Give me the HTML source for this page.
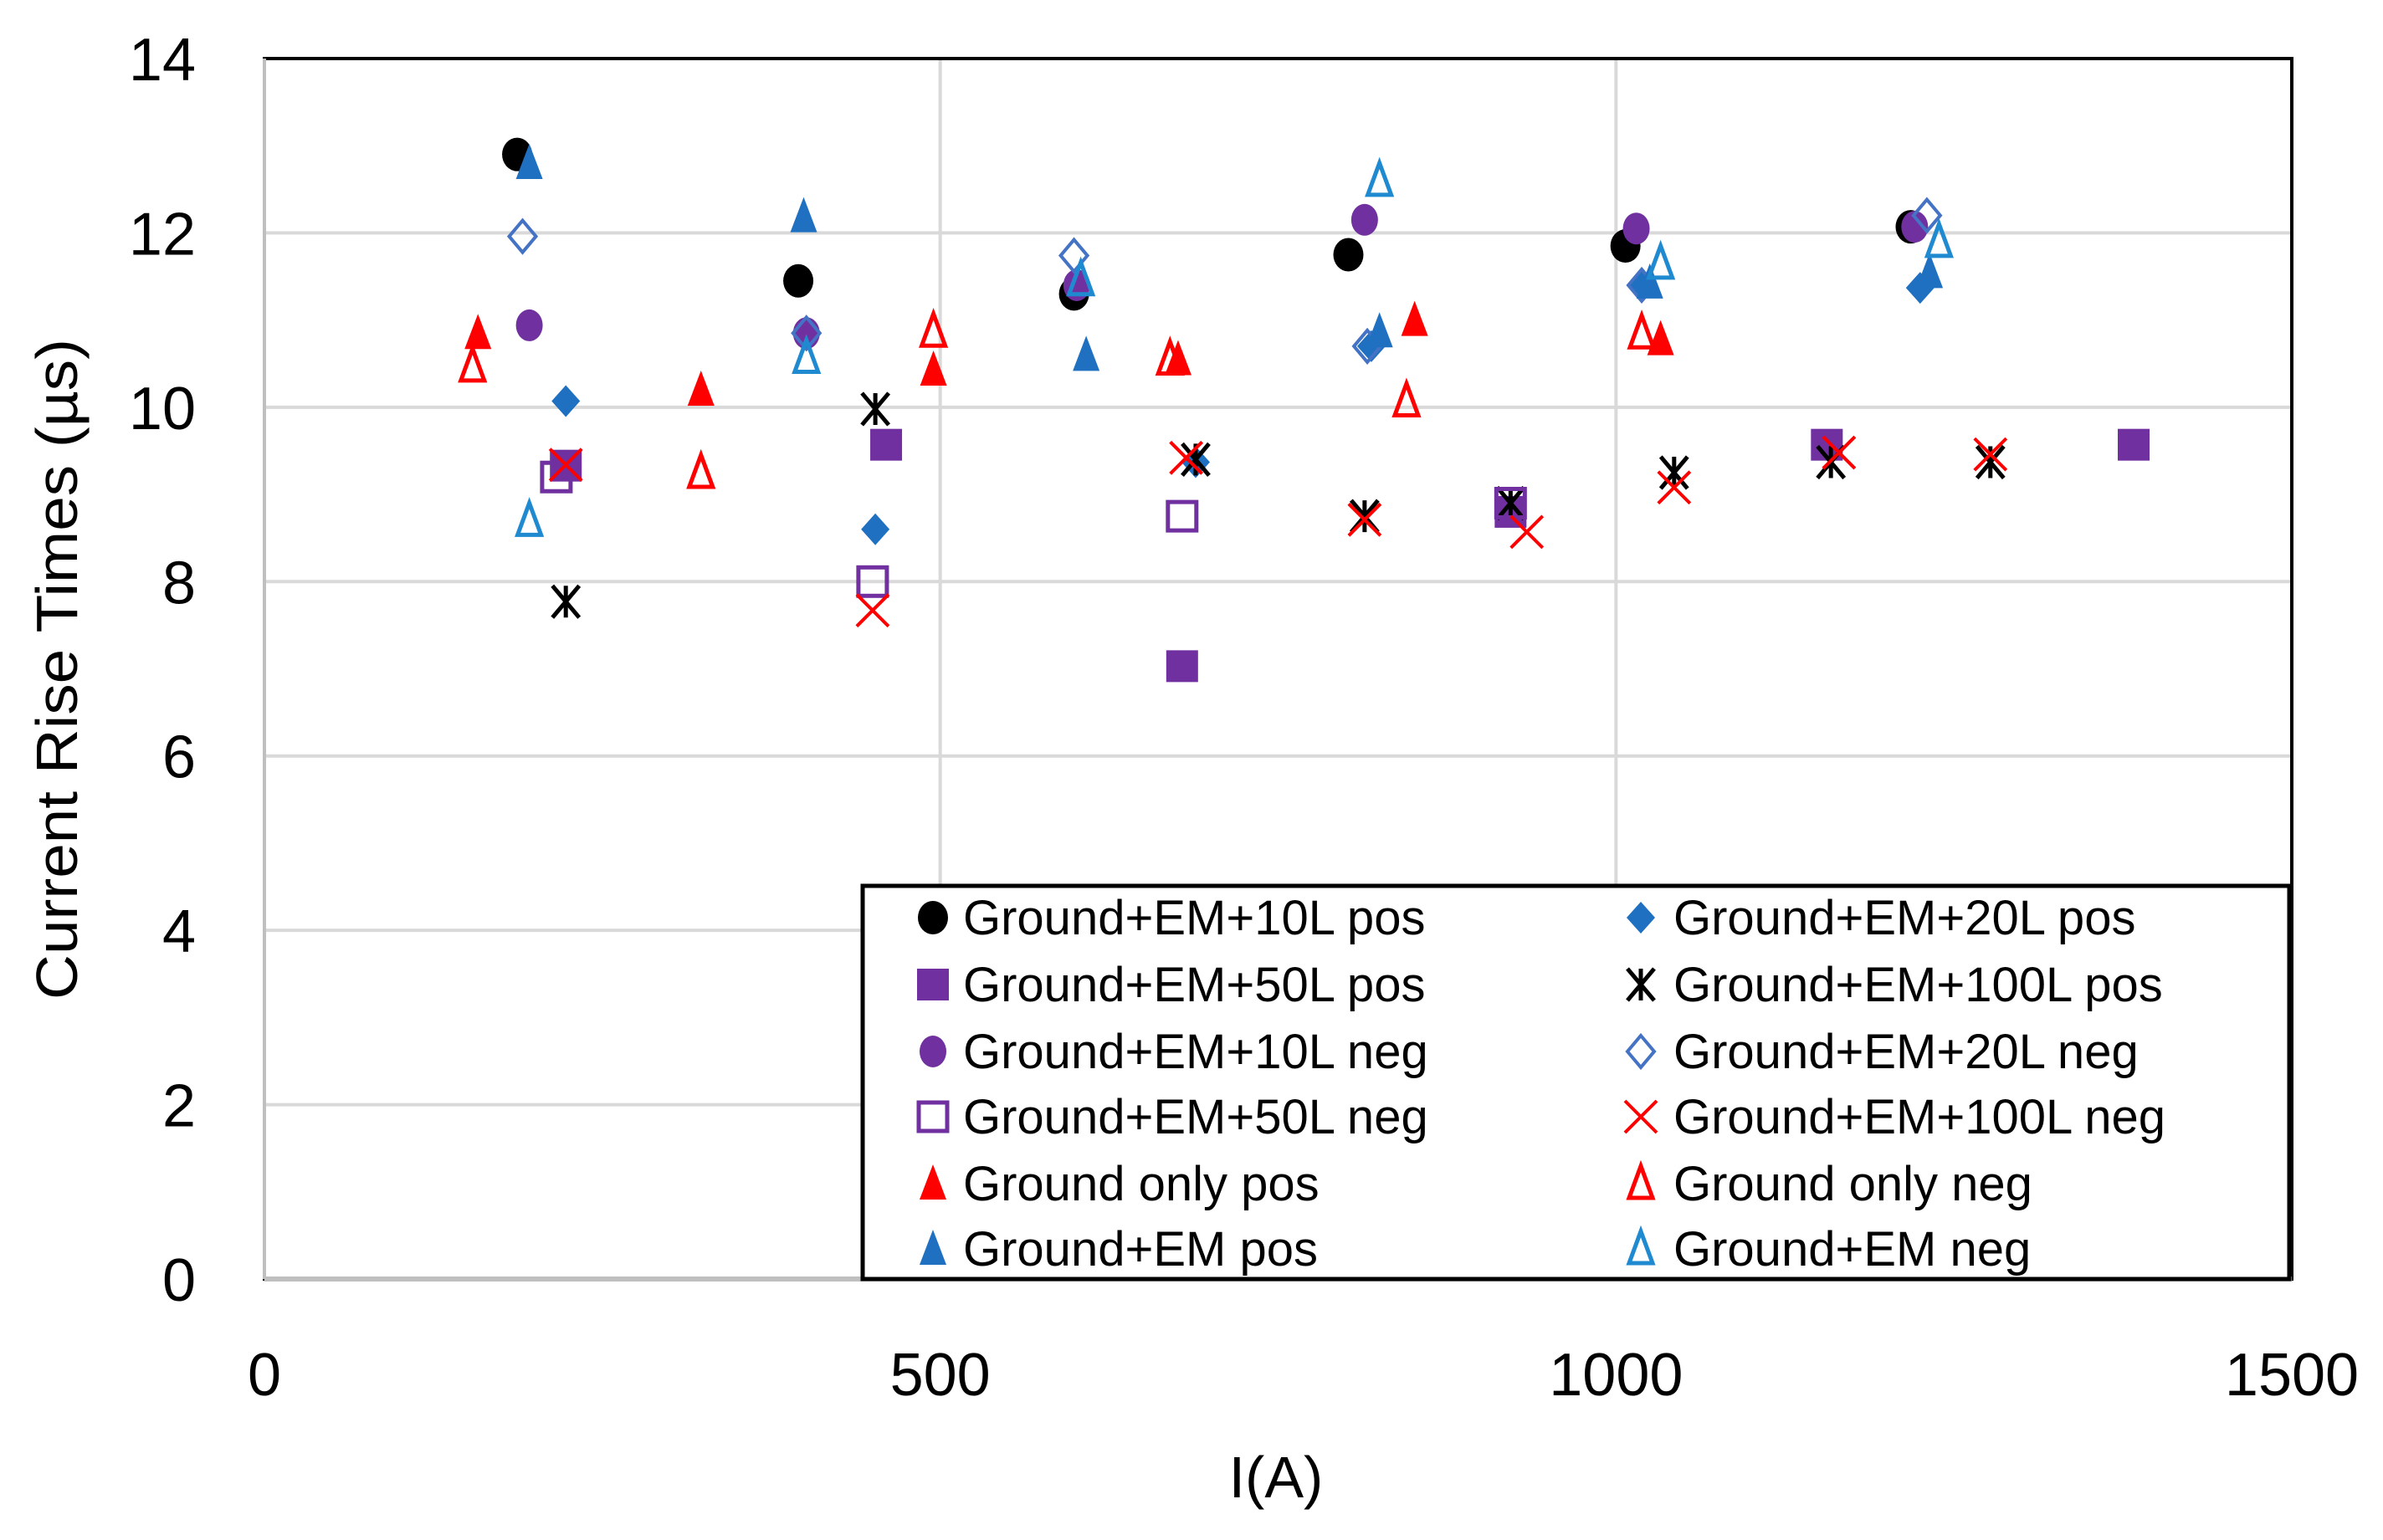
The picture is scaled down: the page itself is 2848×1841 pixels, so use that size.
<!DOCTYPE html>
<html><head><meta charset="utf-8"><style>
html,body{margin:0;padding:0;background:#fff;}
svg{display:block;font-family:"Liberation Sans",sans-serif;}
</style></head><body>
<svg id="chart" width="2848" height="1841" viewBox="0 0 2848 1841" xmlns="http://www.w3.org/2000/svg">
<rect x="0" y="0" width="2848" height="1841" fill="#fff"/>
<g id="grid"></g>
<g id="axes"></g>
<g id="marks"></g>
<g id="legend"></g>
<text x="1525" y="1790" font-size="70" text-anchor="middle">I(A)</text>
<text transform="translate(92,800) rotate(-90)" font-size="70" text-anchor="middle" textLength="790" lengthAdjust="spacingAndGlyphs">Current Rise Times (µs)</text>
</svg>
<script>
const xTicks=[0,500,1000,1500];
const yTicks=[0,2,4,6,8,10,12,14];
const seriesNames=["Ground+EM+10L pos","Ground+EM+20L pos","Ground+EM+50L pos","Ground+EM+100L pos","Ground+EM+10L neg","Ground+EM+20L neg","Ground+EM+50L neg","Ground+EM+100L neg","Ground only pos","Ground only neg","Ground+EM pos","Ground+EM neg"];
const s10pX=[187,395,599,802,1007,1218];
const s10pY=[12.9,11.45,11.3,11.75,11.85,12.07];
const s20pX=[223,452,689,819,1019,1225];
const s20pY=[10.07,8.6,9.37,10.7,11.4,11.37];
const s50pX=[223,460,679,922,1156,1383];
const s50pY=[9.33,9.57,7.03,8.8,9.57,9.57];
const s100pX=[223,452,689,814,922,1043,1159,1277];
const s100pY=[7.77,9.98,9.4,8.75,8.9,9.25,9.37,9.37];
const s10nX=[196,401,601,814,1015,1221];
const s10nY=[10.94,10.85,11.4,12.15,12.05,12.07];
const s20nX=[191,401,599,816,1019,1230];
const s20nY=[11.96,10.85,11.74,10.7,11.4,12.2];
const s50nX=[216,450,679,922];
const s50nY=[9.2,8.0,8.75,8.9];
const s100nX=[223,450,682,814,934,1043,1165,1277];
const s100nY=[9.34,7.67,9.42,8.71,8.57,9.08,9.48,9.46];
const gpX=[158,323,495,676,851,1033];
const gpY=[10.85,10.2,10.43,10.55,11.0,10.78];
const gnX=[154,323,495,670,845,1019];
const gnY=[10.47,9.25,10.87,10.55,10.07,10.85];
const gemPX=[196,399,608,825,1025,1232];
const gemPY=[12.8,12.19,10.6,10.87,11.43,11.55];
const gemNX=[196,401,604,825,1033,1239];
const gemNY=[8.7,10.57,11.46,12.6,11.65,11.9];

const NS="http://www.w3.org/2000/svg";
const L=316,R=2739,T=70,B=1529;
const sx=v=>L+(v-0)/(1500-0)*(R-L);
const sy=v=>B-(v-0)/(14-0)*(B-T);
function mk(tag,attrs,parent){const e=document.createElementNS(NS,tag);for(const k in attrs)e.setAttribute(k,attrs[k]);parent.appendChild(e);return e;}
const grid=document.getElementById('grid'),axes=document.getElementById('axes'),marks=document.getElementById('marks'),legend=document.getElementById('legend');
yTicks.forEach(t=>{
 const l=mk('line',{x1:L,x2:R,y1:sy(t),y2:sy(t),stroke:'#d9d9d9','stroke-width':4},grid);
 
 
 const tx=mk('text',{x:234,y:sy(t)+26,'font-size':72,'text-anchor':'end'},axes);
 tx.textContent=t;
 
 
});
xTicks.forEach(t=>{
 const l=mk('line',{x1:sx(t),x2:sx(t),y1:T,y2:B,stroke:'#d9d9d9','stroke-width':4},grid);
 
 
 const tx=mk('text',{x:sx(t),y:1668,'font-size':72,'text-anchor':'middle'},axes);
 tx.textContent=t;
 
 
});
const frame=mk('rect',{x:L,y:T,width:R-L,height:B-T,fill:'none',stroke:'#000','stroke-width':4},axes);


const lb=mk('line',{x1:L,x2:R,y1:B,y2:B,stroke:'#bfbfbf','stroke-width':6},axes);


const ll=mk('line',{x1:L,x2:L,y1:T,y2:B,stroke:'#bfbfbf','stroke-width':4},axes);



const S=19;
function shape(type,color,x,y,parent){
 let e;
 if(type==='circle') e=mk('ellipse',{cx:x,cy:y,rx:S-1,ry:S+1,fill:color},parent);
 else if(type==='ocircle') e=mk('ellipse',{cx:x,cy:y,rx:S-3,ry:S,fill:color},parent);
 else if(type==='diamond') e=mk('polygon',{points:`${x},${y-S} ${x+S-2},${y} ${x},${y+S} ${x-S+2},${y}`,fill:color},parent);
 else if(type==='odiamond') e=mk('polygon',{points:`${x},${y-S} ${x+S-3},${y} ${x},${y+S} ${x-S+3},${y}`,fill:'none',stroke:color,'stroke-width':4},parent);
 else if(type==='square') e=mk('rect',{x:x-S,y:y-S,width:2*S,height:2*S,fill:color},parent);
 else if(type==='osquare') e=mk('rect',{x:x-S+2,y:y-S+2,width:2*S-4,height:2*S-4,fill:'none',stroke:color,'stroke-width':5},parent);
 else if(type==='tri') e=mk('polygon',{points:`${x},${y-S-4} ${x+S-3},${y+S} ${x-S+3},${y+S}`,fill:color},parent);
 else if(type==='otri') e=mk('polygon',{points:`${x},${y-S-2} ${x+S-5},${y+S-2} ${x-S+5},${y+S-2}`,fill:'none',stroke:color,'stroke-width':5},parent);
 else if(type==='x') e=mk('path',{d:`M${x-S},${y-S}L${x+S},${y+S}M${x+S},${y-S}L${x-S},${y+S}`,stroke:color,'stroke-width':4,fill:'none'},parent);
 else if(type==='star') e=mk('path',{d:`M${x-S+3},${y-S}L${x+S-3},${y+S}M${x+S-3},${y-S}L${x-S+3},${y+S}M${x},${y-S}L${x},${y+S}`,stroke:color,'stroke-width':5,fill:'none'},parent);
 return e;
}
const styles=[['circle','#000'],['diamond','#1f70c1'],['square','#7030a0'],['star','#000'],['ocircle','#7030a0'],['odiamond','#4472c4'],['osquare','#7030a0'],['x','#ff0000'],['tri','#ff0000'],['otri','#ff0000'],['tri','#1f70c1'],['otri','#1f8ad0']];
const seriesX=[s10pX,s20pX,s50pX,s100pX,s10nX,s20nX,s50nX,s100nX,gpX,gnX,gemPX,gemNX];
const seriesY=[s10pY,s20pY,s50pY,s100pY,s10nY,s20nY,s50nY,s100nY,gpY,gnY,gemPY,gemNY];
seriesX.forEach((xs,i)=>{
 const g=mk('g',{},marks);
 
 
 xs.forEach((xv,j)=>{
  const e=shape(styles[i][0],styles[i][1],sx(xv),sy(seriesY[i][j]),g);
  
  
 });
});
const lbox=mk('rect',{x:1031,y:1059,width:1705,height:470,fill:'#fff',stroke:'#000','stroke-width':5},legend);


const rows=[1097,1177,1257,1335,1415,1493];
seriesNames.forEach((n,i)=>{
 const col=i%2,row=Math.floor(i/2);
 const mx=col?1961:1115,y=rows[row];
 const g=mk('g',{},legend);
 
 
 shape(styles[i][0],styles[i][1],mx,y,g);
 const t=mk('text',{x:col?2000:1151,y:y+20,'font-size':58},g);
 t.textContent=n;
});
</script>
</body></html>
